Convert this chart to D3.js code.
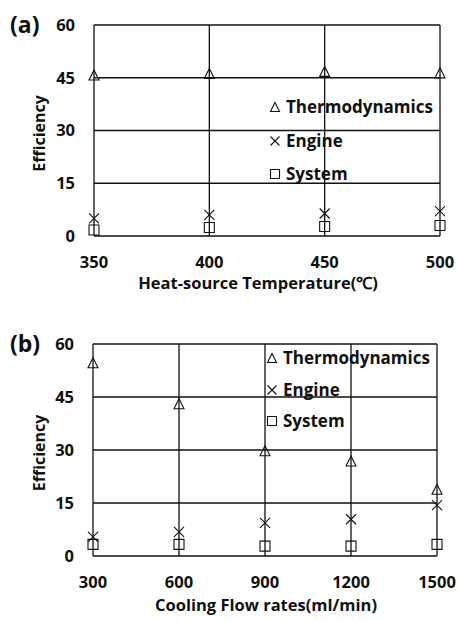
<!DOCTYPE html>
<html>
<head>
<meta charset="utf-8">
<script src="https://cdn.jsdelivr.net/npm/d3@7"></script>
<style>
  body { margin: 0; background: #fff; }
  svg text { font-family: "Open Sans", Lato, sans-serif; font-weight: bold; fill: #111; }
</style>
</head>
<body>
<svg id="chart" width="464" height="621"></svg>
<script>
// Panel (a): heat-source temperature
const tempX = [350, 400, 450, 500];
const tempThermo = [45.8, 46.2, 46.8, 46.4];
const tempEngine = [5.0, 6.0, 6.4, 7.1];
const tempSystem = [1.7, 2.4, 2.7, 3.0];

// Panel (b): cooling flow rate
const flowX = [300, 600, 900, 1200, 1500];
const flowThermo = [54.7, 43.1, 29.8, 26.9, 18.9];
const flowEngine = [5.4, 6.8, 9.4, 10.4, 14.4];
const flowSystem = [3.3, 3.3, 2.8, 2.8, 3.3];

const yTicks = [0, 15, 30, 45, 60];
const seriesNames = ["Thermodynamics", "Engine", "System"];

const svg = d3.select("#chart");

function markerPath(type, s) {
  const h = s / 2;
  if (type === "Thermodynamics") return `M0,${-h}L${h},${h}L${-h},${h}Z`;
  if (type === "Engine") return `M${-h},${-h}L${h},${h}M${h},${-h}L${-h},${h}`;
  return `M${-h},${-h}H${h}V${h}H${-h}Z`;
}

function drawPanel(opt) {
  const g = svg.append("g");
  const x = d3.scaleLinear().domain(opt.xDomain).range([opt.left, opt.right]);
  const y = d3.scaleLinear().domain([0, 60]).range([opt.bottom, opt.top]);

  // horizontal grid
  g.selectAll(".hgrid").data(yTicks).enter().append("line")
    .attr("x1", opt.left).attr("x2", opt.right)
    .attr("y1", d => y(d)).attr("y2", d => y(d))
    .attr("stroke", "#111").attr("stroke-width", 1.3);

  // vertical grid at each category
  g.selectAll(".vgrid").data(opt.xs).enter().append("line")
    .attr("x1", d => x(d)).attr("x2", d => x(d))
    .attr("y1", opt.top).attr("y2", opt.bottom)
    .attr("stroke", "#111").attr("stroke-width", 1.3);

  // y tick labels
  g.selectAll(".ytick").data(yTicks).enter().append("text")
    .attr("x", opt.left - 19).attr("y", d => y(d)).attr("dy", "0.36em")
    .attr("text-anchor", "end").style("font-size", "16.5px")
    .text(d => d);

  // x tick labels
  g.selectAll(".xtick").data(opt.xs).enter().append("text")
    .attr("x", d => x(d)).attr("y", opt.bottom + 32)
    .attr("text-anchor", "middle").style("font-size", "16.5px")
    .text(d => d);

  // axis titles
  g.append("text")
    .attr("x", opt.titleX).attr("y", opt.bottom + opt.titleDy)
    .attr("text-anchor", "middle").style("font-size", "16.5px")
    .text(opt.xTitle);

  g.append("text")
    .attr("transform", `translate(45,${(opt.top + opt.bottom) / 2 + 3}) rotate(-90)`)
    .attr("text-anchor", "middle").style("font-size", "16px")
    .text("Efficiency");

  // panel label
  g.append("text")
    .attr("x", 10).attr("y", opt.top + 8)
    .style("font-size", "23px")
    .text(opt.label);

  // series markers
  const series = [opt.thermo, opt.engine, opt.system];
  series.forEach((vals, i) => {
    g.selectAll(".m" + i).data(vals).enter().append("path")
      .attr("transform", (d, j) => `translate(${x(opt.xs[j])},${y(d)})`)
      .attr("d", markerPath(seriesNames[i], 10))
      .attr("fill", "none").attr("stroke", "#111").attr("stroke-width", 1.1);
  });

  // legend
  seriesNames.forEach((name, i) => {
    const ly = opt.legendY[i];
    g.append("path")
      .attr("transform", `translate(${opt.legendX},${ly})`)
      .attr("d", markerPath(name, 9))
      .attr("fill", "#fff").attr("stroke", "#111").attr("stroke-width", 1.1);
    g.append("text")
      .attr("x", opt.legendX + 11).attr("y", ly).attr("dy", "0.36em")
      .style("font-size", "17px")
      .text(name);
  });
}

drawPanel({
  label: "(a)",
  xs: tempX, xDomain: [350, 500],
  thermo: tempThermo, engine: tempEngine, system: tempSystem,
  left: 94, right: 440, top: 25, bottom: 236,
  xTitle: "Heat-source Temperature(\u2103)", titleX: 258, titleDy: 53,
  legendX: 275, legendY: [107, 141, 174]
});

drawPanel({
  label: "(b)",
  xs: flowX, xDomain: [300, 1500],
  thermo: flowThermo, engine: flowEngine, system: flowSystem,
  left: 93, right: 437, top: 344, bottom: 556,
  xTitle: "Cooling Flow rates(ml/min)", titleX: 266, titleDy: 55,
  legendX: 272, legendY: [358, 390, 421]
});
</script>
</body>
</html>
